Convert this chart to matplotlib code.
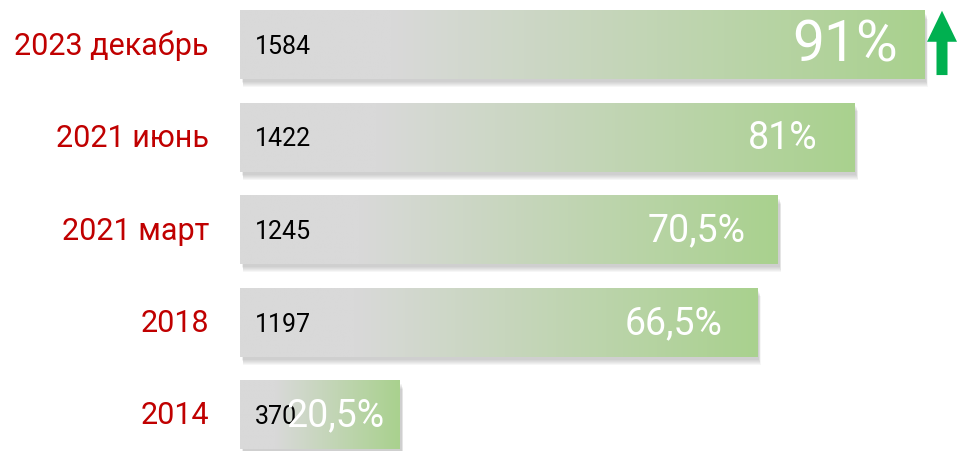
import numpy as np
import matplotlib
matplotlib.use("Agg")
from matplotlib import pyplot as plt
from matplotlib.colors import LinearSegmentedColormap
from matplotlib.patches import Rectangle, FancyArrow

# data
periods = ["2023 декабрь", "2021 июнь", "2021 март", "2018", "2014"]
counts = [1584, 1422, 1245, 1197, 370]
shares = ["91%", "81%", "70,5%", "66,5%", "20,5%"]

plt.rcParams['font.family'] = ['Roboto', 'DejaVu Sans']

W, H = 957, 452
fig = plt.figure(figsize=(W / 100, H / 100), dpi=100)
fig.patch.set_facecolor("white")

# axes: x=0 at pixel 240, 0.432 px per unit; rows 92.5 px apart
x0_px, px_per_unit = 240, 0.432
ax = fig.add_axes([x0_px / W, 0, 1 - x0_px / W, 1])
row_px, first_px = 92.5, 46
ax.axis("off")

cmap = LinearSegmentedColormap.from_list(
    "gb", [(0, "#d9d9d9"), (0.22, "#d9d9d9"), (1, "#a9d18e")])
grad = np.linspace(0, 1, 256).reshape(1, -1)
h = 0.745
u = 1 / px_per_unit           # one pixel in x data units
v = 1 / row_px                # one pixel in y data units

pct_size = [41, 27, 27, 27, 27]
pct_off = [26, 37, 32, 35, 15]

for i, (lab, n, s) in enumerate(zip(periods, counts, shares)):
    # soft shadow
    for k in range(6):
        ax.add_patch(Rectangle((2 * u + k * 0.3 * u, i - h / 2 + (3 + k) * v), n, h,
                               color="#555555", alpha=0.05, lw=0, zorder=1))
    ax.imshow(grad, cmap=cmap, aspect="auto",
              extent=(0, n, i + h / 2, i - h / 2), zorder=2)
    ax.text(-31 * u, i, lab, ha="right", va="center", color="#c00000",
            fontsize=22, zorder=3)
    ax.text(15 * u, i + 1 * v, str(n), ha="left", va="center", color="black",
            fontsize=18, zorder=3)
    ax.text(n - pct_off[i] * u, i, s, ha="right", va="center", color="white",
            fontsize=pct_size[i], zorder=4)

ax.set_xlim(0, (W - x0_px) / px_per_unit)
ax.set_ylim((H - first_px) / row_px, -first_px / row_px)

# green up arrow to the right of the top bar
ax.add_patch(FancyArrow((942 - x0_px) * u, 0.325, 0, -0.695,
                        width=11 * u, head_width=30 * u, head_length=31 * v,
                        length_includes_head=True, color="#00b050", lw=0,
                        zorder=3, clip_on=False))

fig.savefig("out.png", dpi=100)
